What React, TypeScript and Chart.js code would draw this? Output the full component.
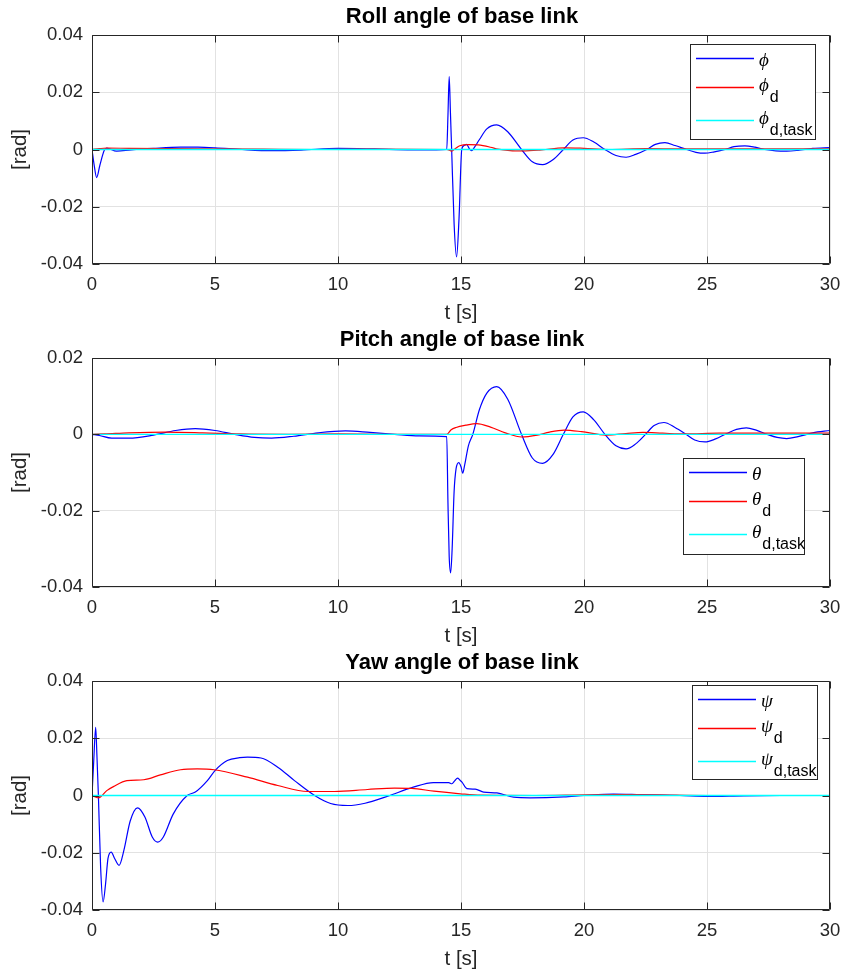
import React, { useEffect, useRef } from "react";
import { Chart, registerables } from "chart.js";

Chart.register(...registerables);

// ---------------- data ----------------
const X_TICKS = [0, 5, 10, 15, 20, 25, 30];

// Roll angle
const ROLL_T = [0, 0.08, 0.19, 0.32, 0.5, 0.6, 1.0, 1.6, 2.5, 3.6, 4.3, 5.0, 6.1, 7.3, 8.5, 10.0, 11.5, 13.0, 14.0, 14.42, 14.47, 14.52, 14.57, 14.62, 14.72, 14.82, 14.92, 15.03, 15.13, 15.23, 15.33, 15.43, 15.55, 15.75, 16.05, 16.45, 16.9, 17.46, 17.9, 18.32, 18.75, 19.16, 19.55, 19.97, 20.4, 20.85, 21.3, 21.71, 22.1, 22.55, 22.9, 23.29, 23.7, 24.17, 24.55, 24.92, 25.3, 25.73, 26.1, 26.54, 26.95, 27.35, 27.8, 28.24, 28.7, 29.3, 30];
const ROLL_PHI = [0, -0.005, -0.0098, -0.0055, -0.0003, 0.0005, -0.0006, -0.0001, 0.0004, 0.0008, 0.0008, 0.0006, 0, -0.0004, -0.0002, 0.0004, 0.0002, -0.0001, -0.0001, 0, 0.012, 0.0255, 0.013, 0, -0.026, -0.0375, -0.024, 0, 0.0014, 0.0018, 0.0004, -0.0004, 0.0008, 0.0035, 0.0072, 0.0086, 0.0062, 0, -0.0043, -0.0053, -0.0035, 0, 0.0033, 0.0041, 0.0026, 0, -0.0021, -0.0027, -0.0017, 0, 0.0018, 0.0024, 0.0014, 0, -0.001, -0.0013, -0.0008, 0, 0.001, 0.0013, 0.0008, 0, -0.0005, -0.0006, -0.0003, 0.0004, 0.0007];
const ROLL_D_T = [0, 0.3, 0.6, 1.5, 3, 5, 7, 9, 11, 14.4, 14.55, 14.62, 14.75, 14.95, 15.3, 15.7, 16.2, 16.5, 17.0, 17.5, 18.2, 19.2, 20, 21, 22.5, 24, 26, 28, 30];
const ROLL_D = [0, 0.0003, 0.0005, 0.0004, 0.0003, 0.0002, 0.0001, 0, 0.0001, 0, -0.0003, -0.0006, 0.0002, 0.0013, 0.0017, 0.0016, 0.0008, 0.0001, -0.0004, -0.0005, -0.0002, 0.0006, 0.0004, 0, 0.0003, 0.0002, 0.0002, 0.0002, 0.0002];

// Pitch angle
const PITCH_T = [0, 0.3, 0.8, 1.5, 2.5, 3.4, 4.2, 5.0, 5.8, 6.6, 7.3, 8.2, 9.2, 10.3, 11.3, 12.3, 13.3, 14.42, 14.47, 14.52, 14.58, 14.64, 14.72, 14.8, 14.91, 15.0, 15.07, 15.15, 15.3, 15.48, 15.75, 16.05, 16.45, 16.9, 17.46, 17.9, 18.32, 18.75, 19.16, 19.55, 19.97, 20.4, 20.85, 21.3, 21.71, 22.1, 22.5, 22.85, 23.25, 23.7, 24.15, 24.5, 24.92, 25.35, 25.8, 26.2, 26.6, 27.0, 27.45, 27.85, 28.24, 28.7, 29.3, 30];
const PITCH_THETA = [0, -0.0003, -0.001, -0.001, -0.0002, 0.001, 0.0015, 0.001, 0, -0.0008, -0.001, -0.0005, 0.0004, 0.0009, 0.0005, 0, -0.0004, -0.0006, -0.018, -0.032, -0.0363, -0.03, -0.015, -0.009, -0.0074, -0.0085, -0.0102, -0.008, -0.003, 0, 0.0065, 0.0108, 0.0125, 0.0092, 0, -0.0062, -0.0076, -0.0052, 0, 0.0046, 0.0059, 0.0038, 0, -0.003, -0.0038, -0.0025, 0, 0.0023, 0.0031, 0.0018, 0, -0.0015, -0.002, -0.0012, 0.0002, 0.0013, 0.0017, 0.0011, 0, -0.0008, -0.0011, -0.0006, 0.0004, 0.001];
const PITCH_D_T = [0, 0.5, 1.5, 3.0, 4.5, 6, 8, 10, 12, 14.42, 14.6, 14.8, 15.2, 15.64, 16.2, 16.8, 17.46, 18.1, 18.6, 19.2, 19.9, 20.9, 21.7, 22.4, 23.2, 24.1, 25.5, 27, 30];
const PITCH_D = [0, 0.0001, 0.0004, 0.0006, 0.0004, 0.0001, 0, 0.0001, 0, 0, 0.0012, 0.0018, 0.0024, 0.0028, 0.0019, 0.0004, -0.0007, -0.0002, 0.0006, 0.0011, 0.0007, -0.0002, 0.0002, 0.0005, 0.0003, 0.0001, 0.0003, 0.0003, 0.0003];

// Yaw angle
const YAW_T = [0, 0.07, 0.15, 0.2, 0.26, 0.35, 0.45, 0.55, 0.65, 0.78, 0.92, 1.1, 1.3, 1.55, 1.85, 2.15, 2.45, 2.67, 2.9, 3.3, 3.87, 4.2, 4.69, 5.0, 5.5, 6.0, 6.32, 6.87, 7.55, 8.23, 9.05, 9.7, 10.4, 11.1, 12.0, 13.06, 13.88, 14.5, 14.63, 14.75, 14.86, 14.95, 15.04, 15.24, 15.58, 15.92, 16.46, 17.14, 17.82, 19.18, 20, 21.2, 22.3, 23.9, 25.0, 26.5, 28, 30];
const YAW_PSI = [0, 0.012, 0.0238, 0.014, 0, -0.025, -0.0372, -0.031, -0.022, -0.0198, -0.022, -0.0244, -0.019, -0.009, -0.0043, -0.0075, -0.0145, -0.0163, -0.0145, -0.0065, 0, 0.0012, 0.0052, 0.0087, 0.0122, 0.0132, 0.0134, 0.0131, 0.0099, 0.0052, 0, -0.0028, -0.0035, -0.0027, -0.0003, 0.0029, 0.0045, 0.0045, 0.0041, 0.0052, 0.0061, 0.0054, 0.0047, 0.0024, 0.0022, 0.0012, 0.0009, -0.0006, -0.0008, -0.0005, 0, 0.0005, 0.0003, 0, -0.0003, -0.0001, 0, 0];
const YAW_D_T = [0, 0.26, 0.6, 0.87, 1.42, 2.1, 2.78, 3.6, 4.28, 4.96, 6.32, 7.55, 8.77, 9.86, 11.2, 12.3, 13.0, 13.9, 14.97, 15.8, 18, 20, 21.5, 23, 25, 30];
const YAW_D = [0, -0.0008, 0.0017, 0.0031, 0.0052, 0.0055, 0.0072, 0.009, 0.0093, 0.009, 0.0064, 0.0035, 0.0014, 0.0014, 0.0021, 0.0026, 0.0025, 0.0015, 0.0006, 0.0001, 0, 0.0002, 0.0003, 0.0002, 0, 0];

// Task references (constant)
const TASK_T = [0, 30];
const TASK_V = [0, 0];

const COLORS = ["#0000ff", "#ff0000", "#00ffff"];
const SUBS = ["", "d", "d,task"];

// ---------------- layout ----------------
const W = 844;
const H = 323;
const LEFT = 92;
const RIGHT_PAD = 14;
const TOP = 35;
const BOTTOM = 264;
const INK = "#262626";
const FONT = "'Liberation Sans', Arial, Helvetica, sans-serif";
const SERIF = "'Liberation Serif', 'DejaVu Serif', 'Times New Roman', serif";

type Panel = {
  title: string;
  sym: string;
  yMin: number;
  yMax: number;
  series: [number[], number[]][];
  legend: { x: number; y: number; w: number; h: number };
};

const PANELS: Panel[] = [
  {
    title: "Roll angle of base link",
    sym: "\u03D5",
    yMin: -0.04,
    yMax: 0.04,
    series: [[ROLL_T, ROLL_PHI], [ROLL_D_T, ROLL_D], [TASK_T, TASK_V]],
    legend: { x: 690, y: 44, w: 125, h: 95 },
  },
  {
    title: "Pitch angle of base link",
    sym: "\u03B8",
    yMin: -0.04,
    yMax: 0.02,
    series: [[PITCH_T, PITCH_THETA], [PITCH_D_T, PITCH_D], [TASK_T, TASK_V]],
    legend: { x: 683, y: 135, w: 121, h: 96 },
  },
  {
    title: "Yaw angle of base link",
    sym: "\u03C8",
    yMin: -0.04,
    yMax: 0.04,
    series: [[YAW_T, YAW_PSI], [YAW_D_T, YAW_D], [TASK_T, TASK_V]],
    legend: { x: 692, y: 39, w: 125, h: 94 },
  },
];

const fmt = (v: number) => {
  const r = Math.round(v * 100) / 100;
  return r === 0 ? "0" : String(r);
};

function PanelChart({ panel, top }: { panel: Panel; top: number }) {
  const ref = useRef<HTMLCanvasElement | null>(null);

  useEffect(() => {
    const canvas = ref.current;
    if (!canvas) return;

    const framePlugin = {
      id: "matlabFrame",
      afterDatasetsDraw(chart: any) {
        const { ctx, chartArea, scales } = chart;
        const { left, right, top: t, bottom } = chartArea;
        ctx.save();
        ctx.strokeStyle = INK;
        ctx.lineWidth = 1;
        const L = Math.round(left) + 0.5;
        const R = Math.round(right) - 0.5;
        const Tp = Math.round(t) + 0.5;
        const B = Math.round(bottom) - 0.5;
        ctx.beginPath();
        ctx.rect(L, Tp, R - L, B - Tp);
        const tl = 7;
        scales.x.ticks.forEach((tk: any) => {
          const px = Math.round(scales.x.getPixelForValue(tk.value)) + 0.5;
          ctx.moveTo(px, B);
          ctx.lineTo(px, B - tl);
          ctx.moveTo(px, Tp);
          ctx.lineTo(px, Tp + tl);
        });
        scales.y.ticks.forEach((tk: any) => {
          const py = Math.round(scales.y.getPixelForValue(tk.value)) + 0.5;
          ctx.moveTo(L, py);
          ctx.lineTo(L + tl, py);
          ctx.moveTo(R, py);
          ctx.lineTo(R - tl, py);
        });
        ctx.stroke();
        ctx.restore();
      },
      afterDraw(chart: any) {
        const { ctx, chartArea } = chart;
        ctx.save();
        // title
        ctx.fillStyle = "#000";
        ctx.font = `bold 22px ${FONT}`;
        ctx.textAlign = "center";
        ctx.textBaseline = "middle";
        ctx.fillText(panel.title, (chartArea.left + chartArea.right) / 2 + 1, 17);

        // legend
        const lg = panel.legend;
        ctx.fillStyle = "#fff";
        ctx.fillRect(lg.x, lg.y, lg.w, lg.h);
        ctx.strokeStyle = INK;
        ctx.lineWidth = 1;
        ctx.strokeRect(lg.x + 0.5, lg.y + 0.5, lg.w, lg.h);
        const rows = [14.5, 43.5, 76.5];
        rows.forEach((off, i) => {
          const y = lg.y + off;
          ctx.strokeStyle = COLORS[i];
          ctx.lineWidth = 1.3;
          ctx.beginPath();
          ctx.moveTo(lg.x + 6, y);
          ctx.lineTo(lg.x + 64, y);
          ctx.stroke();
          const tx = lg.x + 69;
          ctx.fillStyle = "#000";
          ctx.textAlign = "left";
          ctx.textBaseline = "alphabetic";
          ctx.font = `italic 19px ${SERIF}`;
          const symBase = i === 0 ? y + 7.5 : y + 3;
          ctx.fillText(panel.sym, tx, symBase);
          const sw = ctx.measureText(panel.sym).width;
          if (SUBS[i]) {
            ctx.font = `16px ${FONT}`;
            ctx.fillText(SUBS[i], tx + sw + 1, y + 14);
          }
        });
        ctx.restore();
      },
    };

    const chart = new Chart(canvas, {
      type: "line",
      data: {
        datasets: panel.series.map(([ts, vs], i) => ({
          label: panel.sym + (SUBS[i] ? "_" + SUBS[i] : ""),
          data: ts.map((t, k) => ({ x: t, y: vs[k] })),
          borderColor: COLORS[i],
          backgroundColor: COLORS[i],
          borderWidth: i === 2 ? 1.4 : 1.2,
          pointRadius: 0,
          fill: false,
          cubicInterpolationMode: "monotone" as const,
          order: 3 - i,
        })),
      },
      options: {
        responsive: false,
        maintainAspectRatio: false,
        animation: false,
        devicePixelRatio: 1,
        layout: { padding: { top: TOP, right: RIGHT_PAD, left: 0, bottom: 0 } },
        plugins: {
          legend: { display: false },
          title: { display: false },
          tooltip: { enabled: false },
        },
        scales: {
          x: {
            type: "linear",
            min: 0,
            max: 30,
            afterBuildTicks: (scale: any) => {
              scale.ticks = X_TICKS.map((v) => ({ value: v }));
            },
            afterFit: (scale: any) => {
              scale.height = H - BOTTOM;
              scale.paddingLeft = 0;
              scale.paddingRight = 0;
            },
            ticks: {
              color: INK,
              font: { family: FONT, size: 18.5 },
              padding: 10,
              maxRotation: 0,
              autoSkip: false,
              callback: (v: any) => String(v),
            },
            grid: { color: "#e2e2e2", drawTicks: false, lineWidth: 1 },
            border: { display: false },
            title: {
              display: true,
              text: "t [s]",
              color: INK,
              font: { family: FONT, size: 20.5, lineHeight: 0.9 },
              padding: { top: 0, bottom: 0 },
            },
          },
          y: {
            type: "linear",
            min: panel.yMin,
            max: panel.yMax,
            afterFit: (scale: any) => {
              scale.width = LEFT;
              scale.paddingTop = 0;
              scale.paddingBottom = 0;
            },
            ticks: {
              stepSize: 0.02,
              color: INK,
              font: { family: FONT, size: 18.5 },
              padding: 9,
              callback: (v: any) => fmt(Number(v)),
            },
            grid: { color: "#e2e2e2", drawTicks: false, lineWidth: 1 },
            border: { display: false },
            title: {
              display: true,
              text: "[rad]",
              color: INK,
              font: { family: FONT, size: 20.5, lineHeight: 1.2 },
              padding: { top: 8, bottom: 0 },
            },
          },
        },
      },
      plugins: [framePlugin],
    } as any);

    return () => chart.destroy();
  }, [panel]);

  return (
    <canvas
      ref={ref}
      width={W}
      height={H}
      style={{ position: "absolute", left: 0, top, width: W, height: H, display: "block" }}
    />
  );
}

export default function App() {
  return (
    <div style={{ position: "absolute", left: 0, top: 0, width: W, height: 975, background: "#fff" }}>
      {PANELS.map((p, i) => (
        <PanelChart key={i} panel={p} top={i * H} />
      ))}
    </div>
  );
}
